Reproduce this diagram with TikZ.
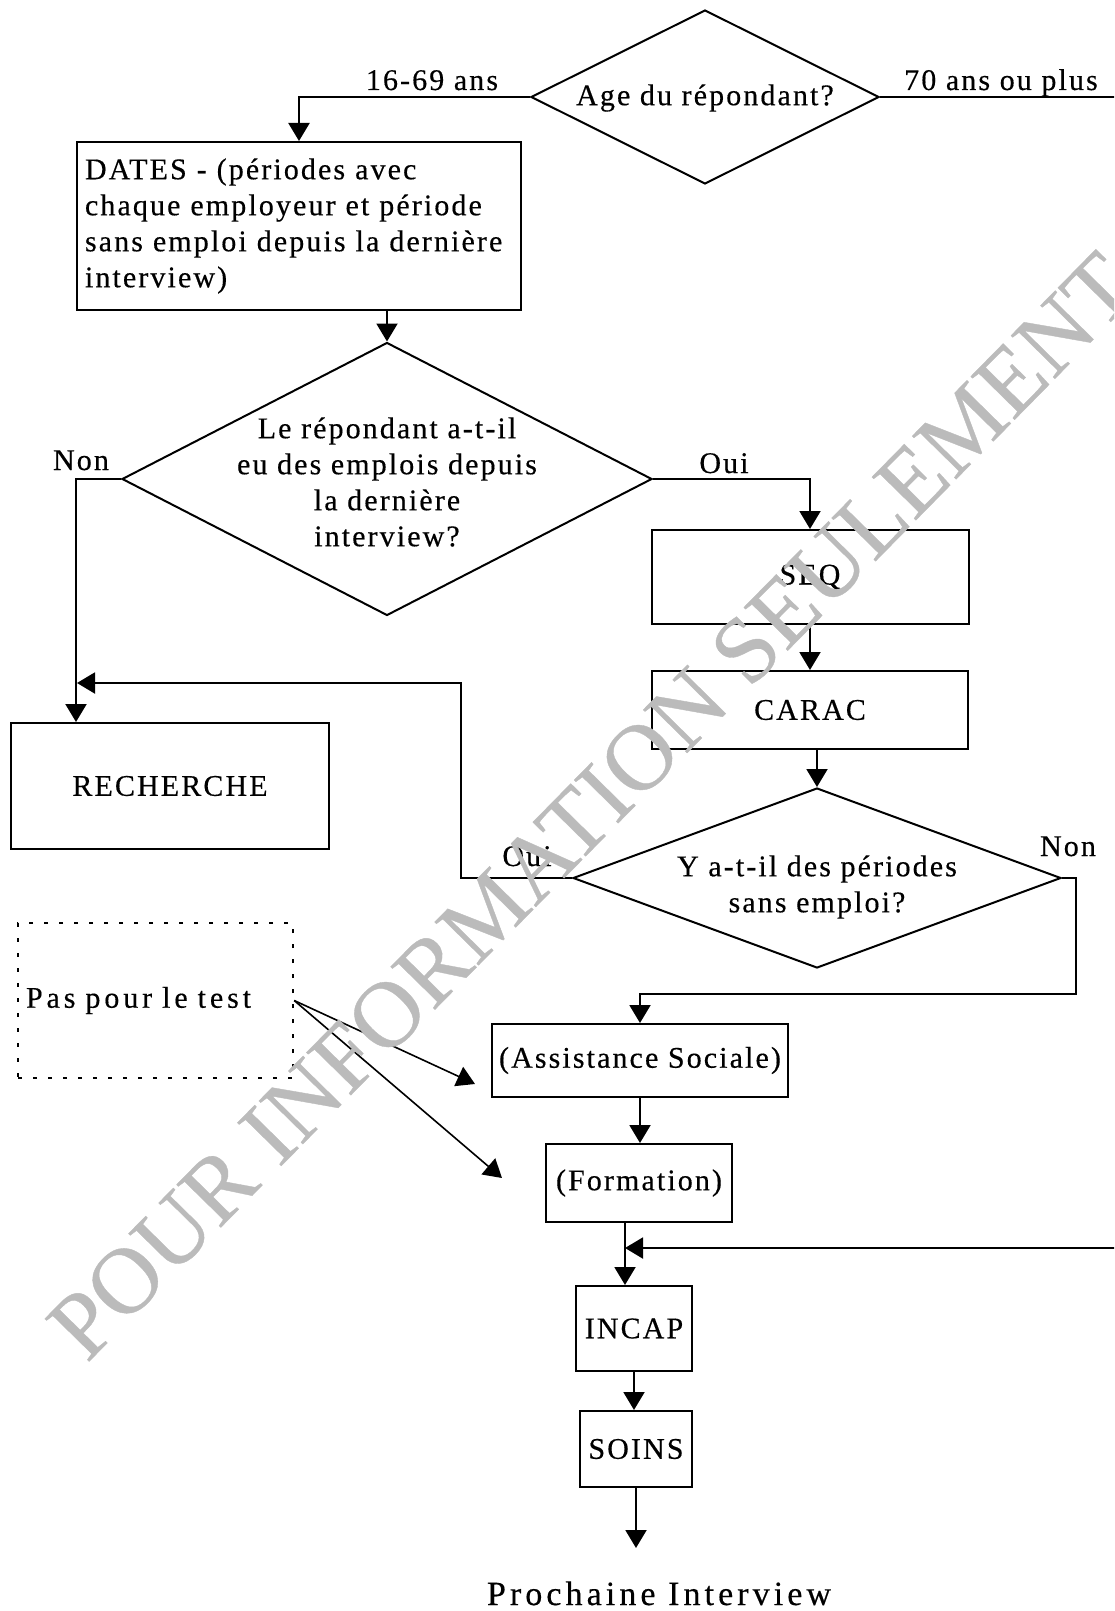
\documentclass[tikz,border=0pt]{standalone}
\usepackage{fontspec}
\setmainfont{Liberation Serif}[LetterSpace=7, FakeBold=0.4]
\usetikzlibrary{shapes.geometric, arrows.meta}
\definecolor{wmgray}{RGB}{187,187,187}

\begin{document}
\begin{tikzpicture}[x={(0.5pt, 0pt)}, y={(0pt, -0.5pt)}, line width=1pt,
    font=\fontsize{15}{18}\selectfont]
  \tikzstyle{box}=[draw, rectangle, inner sep=0pt]
  \tikzstyle{decision}=[draw, diamond, inner sep=0pt]
  \tikzstyle{arr}=[-{Triangle[length=9pt, width=10.5pt]}]
  \useasboundingbox (0, 0) rectangle (1114, 1611);
  \clip (0, 0) rectangle (1114, 1611);

  \node[decision, minimum width=174pt, minimum height=87pt] (age) at (705, 97) {};
  \node (agetext) at (705, 98) {Age du répondant?};

  \node[box, minimum width=222pt, minimum height=84pt, text width=214pt, align=left] (dates) at (299, 226)
    {DATES - (périodes avec\\chaque employeur et période\\sans emploi depuis la dernière\\interview)};
  \node[anchor=base] (l1669) at (432, 90) {16-69 ans};
  \draw[arr] (age.west) -| (dates.north);

  \node[anchor=base] (l70) at (1001, 90) {70 ans ou plus};
  \coordinate (j70) at (625, 1248);
  \draw[arr] (age.east) -- (1140, 97) |- (j70);

  \node[decision, minimum width=265pt, minimum height=136.5pt] (emplois) at (387, 479) {};
  \node[align=center] (emploistext) at (387, 482)
    {Le répondant a-t-il\\eu des emplois depuis\\la dernière\\interview?};
  \draw[arr] (dates.south -| emplois.north) -- (emplois.north);

  \node[box, minimum width=159pt, minimum height=63pt] (recherche) at (170, 786) {RECHERCHE};
  \node[anchor=base] (lnon1) at (81, 470) {Non};
  \draw[arr] (emplois.west) -| (dates.west |- recherche.north);

  \node[box, minimum width=158.5pt, minimum height=47pt] (seq) at (810, 577) {SEQ};
  \node[anchor=base] (loui1) at (724, 473) {Oui};
  \draw[arr] (emplois.east) -| (seq.north);

  \node[box, minimum width=158pt, minimum height=39pt] (carac) at (810, 710) {CARAC};
  \draw[arr] (seq.south) -- (carac.north);

  \node[decision, minimum width=244pt, minimum height=90pt] (periodes) at (817, 878) {};
  \node[align=center] (periodestext) at (817, 887) {Y a-t-il des périodes\\sans emploi?};
  \draw[arr] (carac.south -| periodes.north) -- (periodes.north);

  \coordinate (joinR) at (77, 683);
  \node[anchor=base] (loui2) at (527, 866) {Oui};
  \draw[arr] (periodes.west) -- ++(-111, 0) |- (joinR);

  \node[box, minimum width=148pt, minimum height=36.5pt] (assist) at (640, 1060.5) {(Assistance Sociale)};
  \node[anchor=base] (lnon2) at (1068, 856) {Non};
  \draw[arr] (periodes.east) -- ++(14, 0) -- ++(0, 116) -| (assist.north);

  \node[box, minimum width=93pt, minimum height=39pt] (formation) at (639, 1183) {(Formation)};
  \draw[arr] (assist.south) -- (assist.south |- formation.north);

  \node[box, minimum width=58pt, minimum height=42.5pt] (incap) at (634, 1328.5) {INCAP};
  \draw[arr] (formation.south -| j70) -- (incap.north -| j70);

  \node[box, minimum width=56pt, minimum height=38pt] (soins) at (636, 1449) {SOINS};
  \draw[arr] (incap.south) -- (incap.south |- soins.north);

  \node[anchor=base, font=\fontsize{17}{20}\selectfont] (prochaine) at (659, 1605)
    {\addfontfeature{LetterSpace=12}Prochaine Interview};
  \coordinate (fin) at (636, 1548);
  \draw[arr] (soins.south) -- (fin);

  % encadre pointille
  \node[draw, line width=1.2pt, dash pattern=on 2pt off 5.5pt, minimum width=137.5pt, minimum height=77.5pt,
    inner sep=0pt, text width=129.5pt, align=left] (pastest) at (155.5, 1000.5)
    {\addfontfeature{LetterSpace=13}Pas pour le test};
  \coordinate (ta) at (475, 1084);
  \coordinate (tf) at (502, 1178);
  \draw[arr, line width=0.8pt] (pastest.east) -- (ta);
  \draw[arr, line width=0.8pt] (pastest.east) -- (tf);

  % filigrane
  \node[rotate=45.5, text=wmgray, font=\fontsize{47}{47}\selectfont] (filigrane) at (592, 806)
    {\addfontfeature{LetterSpace=0}POUR INFORMATION SEULEMENT};
\end{tikzpicture}
\end{document}
